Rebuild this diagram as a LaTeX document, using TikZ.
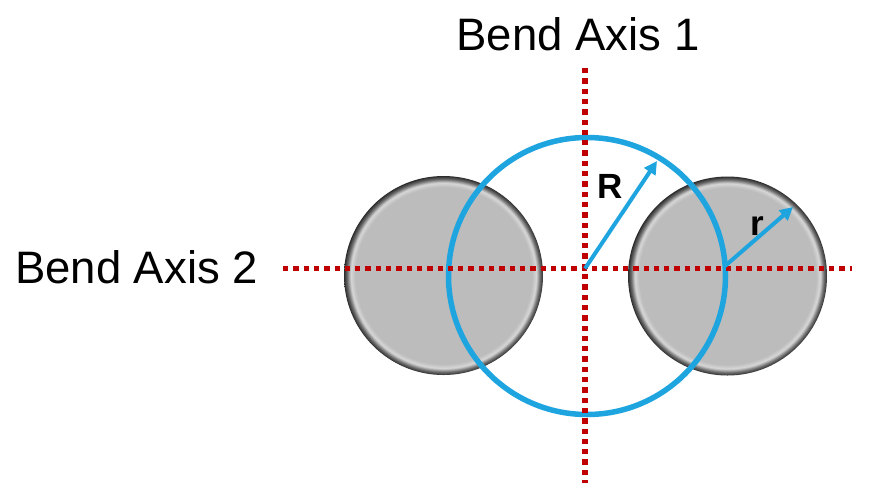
\documentclass[tikz,border=0pt]{standalone}
\usepackage{fontspec}
\setmainfont{Liberation Sans}
\usetikzlibrary{arrows.meta}
\definecolor{axisred}{RGB}{192,0,0}
\definecolor{skyblue}{RGB}{30,165,224}
\definecolor{ballgray}{RGB}{188,188,188}
\definecolor{balllight}{RGB}{215,215,215}
\definecolor{ballmid}{RGB}{110,110,110}
\definecolor{balldark}{RGB}{45,45,45}
\pgfdeclareradialshading{ballshade}{\pgfpoint{0bp}{0bp}}{color(0bp)=(ballgray); color(22.2bp)=(ballgray); color(23.3bp)=(balllight); color(24.2bp)=(ballmid); color(25bp)=(balldark); color(50bp)=(balldark)}
\begin{document}
\begin{tikzpicture}[x=1pt,y=-1pt]
\tikzset{
  ball/.style={circle, minimum size=199pt, inner sep=0pt, shading=ballshade},
  axisline/.style={axisred, line width=5.5pt, dash pattern=on 5.3pt off 5pt},
  bigring/.style={circle, draw=skyblue, line width=5.5pt, minimum size=277pt, inner sep=0pt},
  radiusarrow/.style={skyblue, line width=4pt, -{Triangle[length=13pt,width=13pt]}},
  axislabel/.style={font=\fontsize{45.5}{54}\selectfont, inner sep=0pt, anchor=base},
  rlabel/.style={font=\fontsize{35}{42}\selectfont\bfseries, inner sep=0pt, anchor=base}
}
\useasboundingbox[fill=white] (0,0) rectangle (879,483);
% balls
\node[ball] (ballL) at (443.5,275.5) {};
\node[ball] (ballR) at (727.5,276) {};
% blue ring
\node[bigring] (ring) at (587,276) {};
% axes
\coordinate (O) at (585,268.5);
\coordinate (vTop) at (585,68);
\coordinate (vBot) at (585,483);
\coordinate (hL) at (283,268.5);
\coordinate (hR) at (852,268.5);
\draw[axisline] (vTop) -- (vBot);
\draw[axisline] (hL) -- (hR);
% radius arrows
\coordinate (Rend) at (657,161);
\coordinate (rStart) at (725,266);
\coordinate (rEnd) at (793,207);
\draw[radiusarrow] (O) -- (Rend);
\draw[radiusarrow] (rStart) -- (rEnd);
% labels
\node[axislabel] (ax1) at (578,50) {Bend Axis 1};
\node[axislabel] (ax2) at (136.5,283) {Bend Axis 2};
\node[rlabel] (Rl) at (610,198) {R};
\node[rlabel] (rl) at (757.5,235) {r};
\end{tikzpicture}
\end{document}
